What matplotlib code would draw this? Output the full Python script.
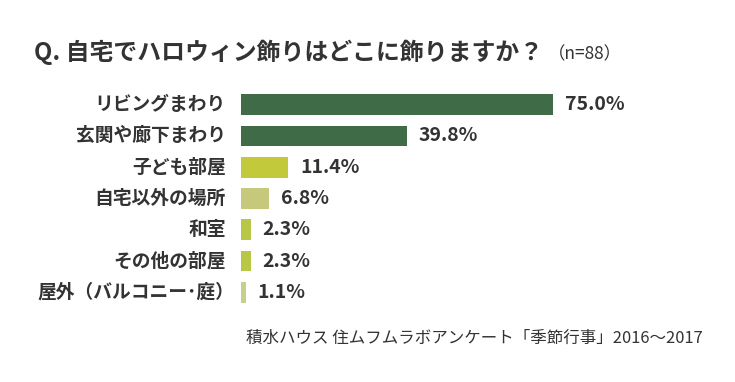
import matplotlib
matplotlib.use("Agg")
import matplotlib.pyplot as plt

plt.rcParams['font.family'] = ['Noto Sans CJK JP', 'DejaVu Sans']

# data
places = ['リビングまわり', '玄関や廊下まわり', '子ども部屋', '自宅以外の場所',
          '和室', 'その他の部屋', '屋外（バルコニー･庭）']
percent = [75.0, 39.8, 11.4, 6.8, 2.3, 2.3, 1.1]
colors = ['#3f6b47', '#3f6b47', '#c2ca3c', '#c6c87c', '#b9c746', '#b9c746', '#c6cf8c']

title = 'Q. 自宅でハロウィン飾りはどこに飾りますか？'
n_note = '（n=88）'
source = '積水ハウス 住ムフムラボアンケート「季節行事」2016～2017'

W, H = 735, 382
fig = plt.figure(figsize=(W / 100, H / 100), dpi=100)
fig.patch.set_facecolor('white')

# axes placed so that 0% sits at x=241px and 75% at x=553px
ax = fig.add_axes([241 / W, 1 - 308 / H, 416 / W, 219 / H])
ypos = list(range(len(places)))
ax.barh(ypos, percent, height=0.66, color=colors)
ax.set_xlim(0, 100)
ax.set_ylim(len(places) - 0.5, -0.5)
ax.set_yticks([])
ax.set_xticks([])
for s in ax.spines.values():
    s.set_visible(False)
ax.patch.set_alpha(0)

for y, name in zip(ypos, places):
    # full-width closing paren leaves blank space on its right, nudge it over
    dx = -7 if name.endswith('）') else -15
    ax.annotate(name, (0, y), xytext=(dx, 0), textcoords='offset pixels',
                va='center', ha='right', fontsize=13.5, fontweight='bold', color='#333333')

for y, v in zip(ypos, percent):
    ax.annotate(f'{v:.1f}%', (v, y), xytext=(8.5, 0), textcoords='offset points',
                va='center', ha='left', fontsize=14, fontweight='bold', color='#333333')

fig.text(34 / W, 1 - 52 / H, title, fontsize=17.2, fontweight='bold',
         color='#333333', va='center', ha='left')
fig.text(548 / W, 1 - 54 / H, n_note, fontsize=12.5, color='#333333',
         va='center', ha='left')
fig.text(703 / W, 1 - 338 / H, source, fontsize=11.9, color='#333333',
         va='center', ha='right')

fig.savefig('out.png', dpi=100)
